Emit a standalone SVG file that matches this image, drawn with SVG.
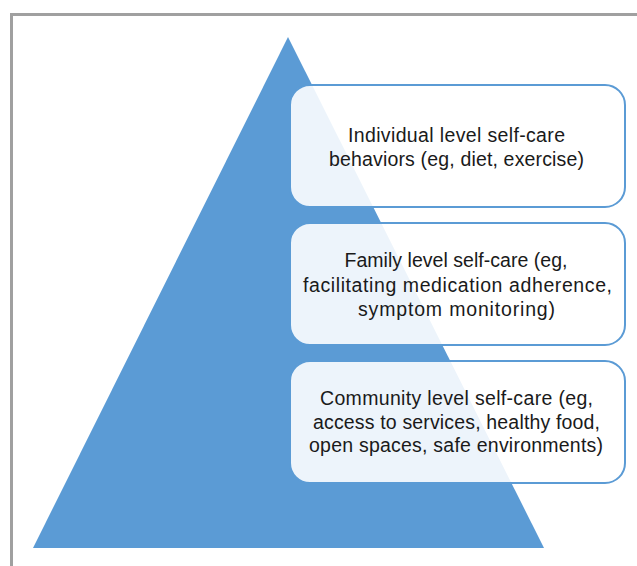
<svg xmlns="http://www.w3.org/2000/svg" width="637" height="566" viewBox="0 0 637 566">
<style>
.box{fill:#ffffff;fill-opacity:0.89;stroke:#5b9bd5;stroke-width:2}
.t{font-family:"Liberation Sans",Arial,sans-serif;font-size:19.5px;fill:#1a1a1a;text-anchor:middle}
</style>
<rect x="0" y="0" width="637" height="566" fill="#ffffff"/>
<rect x="11.5" y="14.5" width="640" height="570" fill="none" stroke="#a0a0a0" stroke-width="3"/>
<polygon id="pyramid" points="288,37 544,548 33,548" fill="#5b9bd5"/>
<g id="connectors"></g>
<g id="individual">
<rect class="box" x="290" y="85" width="335" height="122" rx="20"/>
<text class="t" x="456.5" y="142" textLength="217" lengthAdjust="spacing">Individual level self-care</text>
<text class="t" x="456.5" y="165.5" textLength="255" lengthAdjust="spacing">behaviors (eg, diet, exercise)</text>
</g>
<g id="family">
<rect class="box" x="290" y="223" width="335" height="122" rx="20"/>
<text class="t" x="456" y="267" textLength="223" lengthAdjust="spacing">Family level self-care (eg,</text>
<text class="t" x="457.5" y="291.5" textLength="309" lengthAdjust="spacing">facilitating medication adherence,</text>
<text class="t" x="456.5" y="316" textLength="197" lengthAdjust="spacing">symptom monitoring)</text>
</g>
<g id="community">
<rect class="box" x="290" y="361" width="335" height="122" rx="20"/>
<text class="t" x="456.5" y="405" textLength="273" lengthAdjust="spacing">Community level self-care (eg,</text>
<text class="t" x="456.5" y="428.5" textLength="287" lengthAdjust="spacing">access to services, healthy food,</text>
<text class="t" x="456" y="452" textLength="294" lengthAdjust="spacing">open spaces, safe environments)</text>
</g>
</svg>
